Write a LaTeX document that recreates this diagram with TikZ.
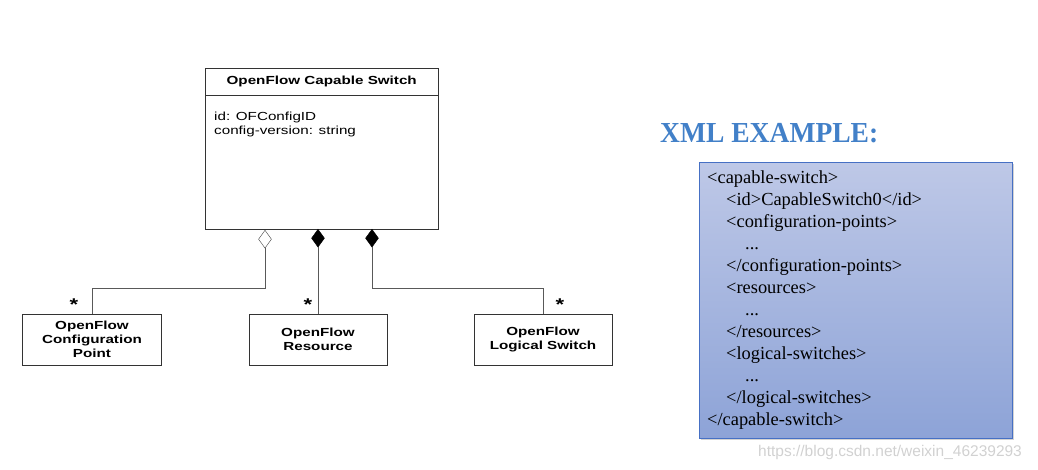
\documentclass[tikz,border=0pt]{standalone}
\usepackage{fontspec}
\setmainfont{Liberation Serif}
\newfontfamily\umlfont[FakeStretch=1.3]{Liberation Sans}
\newfontfamily\headfont[FakeStretch=0.95]{Liberation Serif}
\newfontfamily\markfont{Liberation Sans}
\usetikzlibrary{positioning,shapes.geometric,shadows}
\definecolor{xmltop}{RGB}{190,200,231}
\definecolor{xmlbot}{RGB}{141,163,215}
\definecolor{xmlline}{RGB}{70,112,196}
\definecolor{xmlhead}{RGB}{66,128,200}
\tikzset{
  umlbox/.style={draw=black!80, fill=white, inner sep=0pt, align=center,
    font=\umlfont\fontsize{11.7}{14}\selectfont\bfseries},
  attr/.style={inner sep=0pt, align=left, anchor=north west,
    font=\umlfont\fontsize{11.7}{14}\selectfont},
  link/.style={draw=black!65, line width=0.8pt},
  agg/.style={diamond, draw=black!75, fill=white, inner sep=0pt,
    minimum width=13, minimum height=18},
  comp/.style={agg, draw=black, fill=black},
  mult/.style={inner sep=0pt, font=\umlfont\fontsize{17}{17}\selectfont\bfseries},
  xmlbox/.style={draw=xmlline, line width=0.8pt, top color=xmltop, bottom color=xmlbot,
    drop shadow={shadow xshift=2pt, shadow yshift=-2pt, opacity=0.35}},
  xmltext/.style={inner sep=0pt, anchor=base west, font=\fontsize{18.4}{22}\selectfont},
}
\begin{document}
\begin{tikzpicture}[x=1pt, y=-1pt]
  \useasboundingbox (0,0) rectangle (1038,469);
  % class and its parts
  \node[umlbox, anchor=north west, minimum width=233, minimum height=27] (cs) at (205,68) {OpenFlow Capable Switch};
  \node[umlbox, below=0pt of cs, minimum width=233, minimum height=134] (csbody) {};
  \node[attr] (csattr) at ([xshift=9, yshift=-16]csbody.north west) {id: OFConfigID\\config-version: string};
  \node[agg, anchor=north] (dcp) at (265,230) {};
  \node[comp, anchor=north] (dres) at (318,229) {};
  \node[comp, anchor=north] (dls) at (372,229) {};
  \node[umlbox, minimum width=139, minimum height=51] (cp) at (92,339.5) {OpenFlow\\Configuration\\Point};
  \node[umlbox, minimum width=138, minimum height=51] (res) at (318,339.5) {OpenFlow\\Resource};
  \node[umlbox, minimum width=138, minimum height=51] (ls) at (543,339.5) {OpenFlow\\Logical Switch};
  \coordinate (bend) at (0,288);
  \draw[link] (dcp.south) -- (dcp.south |- bend) -| (cp.north);
  \draw[link] (dres.south) -- (res.north);
  \draw[link] (dls.south) -- (dls.south |- bend) -| (ls.north);
  \node[mult, anchor=north] (mcp) at (74,299) {*};
  \node[mult, anchor=north] (mres) at (308,299) {*};
  \node[mult, anchor=north] (mls) at (560,299) {*};
  % xml example
  \node[anchor=base west, inner sep=0pt, text=xmlhead, font=\headfont\fontsize{29}{29}\selectfont\bfseries] (head) at (660,142.5) {XML EXAMPLE:};
  \node[xmlbox, anchor=north west, minimum width=313, minimum height=276] (xml) at (699,162) {};
  \foreach \lvl/\txt [count=\n] in {0/{<capable-switch>}, 1/{<id>CapableSwitch0</id>},
      1/{<configuration-points>}, 2/{...}, 1/{</configuration-points>}, 1/{<resources>},
      2/{...}, 1/{</resources>}, 1/{<logical-switches>}, 2/{...},
      1/{</logical-switches>}, 0/{</capable-switch>}} {
    \pgfmathsetmacro{\xpos}{707+19*\lvl}
    \pgfmathsetmacro{\ypos}{183+22*(\n-1)}
    \node[xmltext] (x\n) at (\xpos,\ypos) {\txt};
  }
  \node[anchor=base west, inner sep=0pt, text=black!18, font=\markfont\fontsize{15.5}{16}\selectfont] (mark) at (758,456) {https://blog.csdn.net/weixin\_46239293};
\end{tikzpicture}
\end{document}
